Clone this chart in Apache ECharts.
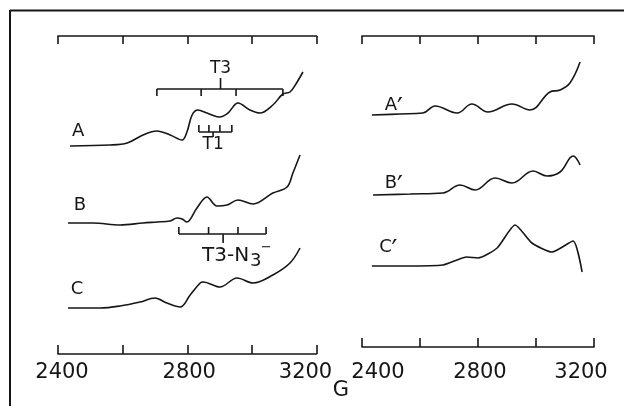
<!DOCTYPE html>
<html>
<head>
<meta charset="utf-8">
<script src="https://cdn.jsdelivr.net/npm/echarts@6.0.0/dist/echarts.min.js"></script>
<style>
  html, body { margin: 0; padding: 0; background: #fff; }
  #chart { width: 624px; height: 406px; }
</style>
</head>
<body>
<div id="chart"></div>
<script>
// field axis (gauss)
const fieldMin = 2400;
const fieldMax = 3200;
const fieldStep = 200;
const tickLabels = [2400, 2800, 3200];

// left panel traces: field (G) and signal (arbitrary units), plus vertical offset of each trace
const fieldA = [2437, 2561, 2614, 2663, 2706, 2747, 2784, 2799, 2815, 2833, 2861, 2901, 2926, 2957, 2994, 3025, 3065, 3096, 3118, 3140, 3158];
const signalA = [0, 1, 3, 11, 15, 11, 6, 14, 31, 36, 33, 29, 33, 43, 36, 33, 41, 52, 54, 64, 74];
const fieldB = [2431, 2508, 2592, 2663, 2706, 2747, 2768, 2784, 2799, 2830, 2861, 2892, 2923, 2957, 3004, 3065, 3109, 3127, 3149];
const signalB = [0, 0, -2, 0, 1, 2, 5, 4, 1, 15, 26, 17, 18, 23, 19, 30, 36, 50, 68];
const fieldC = [2431, 2530, 2592, 2654, 2700, 2737, 2778, 2809, 2840, 2849, 2901, 2954, 3004, 3065, 3118, 3149];
const signalC = [0, 0, 2, 6, 10, 5, 1, 13, 25, 26, 21, 30, 25, 33, 45, 60];
const offsetsLeft = [208, 131, 46];
const namesLeft = ['A', 'B', 'C'];
const nameFieldLeft = [2462, 2468, 2459];
const nameLevelLeft = [223, 149, 65];

// right panel traces
const fieldA2 = [2434, 2531, 2610, 2652, 2728, 2779, 2834, 2917, 2979, 3048, 3083, 3117, 3152];
const signalA2 = [0, 1, 2, 9, 2, 11, 3, 11, 5, 23, 25, 32, 53];
const fieldB2 = [2438, 2566, 2679, 2738, 2790, 2859, 2917, 2990, 3038, 3083, 3128, 3152];
const signalB2 = [0, 1, 2, 10, 5, 17, 12, 24, 19, 23, 39, 30];
const fieldC2 = [2434, 2550, 2679, 2762, 2800, 2866, 2928, 2986, 3055, 3128, 3159];
const signalC2 = [0, 0, 1, 9, 8, 18, 41, 23, 14, 25, -6];
const offsetsRight = [232, 152, 81];
const namesRight = ['A', 'B', 'C'];
const nameFieldRight = [2500, 2500, 2481];
const nameLevelRight = [242, 164, 100];

// hyperfine stick markers (left panel)
const bracketTicks = [
  [2706, 2843, 2951, 3096],
  [2836, 2867, 2901, 2938],
  [2774, 2866, 2957, 3044]
];
const bracketStem = [2903, 2880, 2911];
const bracketLevel = [265, 222, 120];
const bracketNames = ['T3', 'T1', 'T3-N'];

const FONT = '"DejaVu Sans", sans-serif';
const INK = '#161616';

let myChart = echarts.init(document.getElementById('chart'));

function trace(field, signal, offset, xi, smooth) {
  return {
    type: 'line',
    xAxisIndex: xi,
    yAxisIndex: xi === 0 ? 0 : 1,
    data: field.map((g, i) => [g, offset + signal[i]]),
    showSymbol: false,
    smooth: smooth,
    lineStyle: { color: INK, width: 1.6 },
    silent: true
  };
}

function renderBracket(params, api) {
  let i = params.dataIndex;
  let lv = bracketLevel[i];
  let ticks = bracketTicks[i];
  let dir = i === 0 ? -1 : 1; // +1: ticks point up
  let style = { stroke: INK, lineWidth: 1.6 };
  let p0 = api.coord([ticks[0], lv]);
  let p1 = api.coord([ticks[ticks.length - 1], lv]);
  let s = api.coord([bracketStem[i], lv]);
  let children = [{ type: 'line', shape: { x1: p0[0], y1: p0[1], x2: p1[0], y2: p1[1] }, style: style }];
  ticks.forEach(t => {
    let p = api.coord([t, lv]);
    children.push({ type: 'line', shape: { x1: p[0], y1: p[1], x2: p[0], y2: p[1] - dir * 7 }, style: style });
  });
  let stemLen = i === 0 ? 11 : (i === 1 ? 5 : 9);
  children.push({ type: 'line', shape: { x1: s[0], y1: s[1], x2: s[0], y2: s[1] + dir * stemLen }, style: style });
  if (i === 0) {
    children.push({ type: 'text', style: { text: bracketNames[i], x: s[0], y: s[1] - 20, align: 'center', verticalAlign: 'middle', font: '17px ' + FONT, fill: INK } });
  } else if (i === 1) {
    children.push({ type: 'text', style: { text: bracketNames[i], x: s[0], y: s[1] + 13, align: 'center', verticalAlign: 'middle', font: '17px ' + FONT, fill: INK } });
  } else {
    children.push({ type: 'text', style: { text: bracketNames[i], x: s[0] - 21, y: s[1] + 22, align: 'left', verticalAlign: 'middle', font: '20px ' + FONT, fill: INK } });
    children.push({ type: 'text', style: { text: '3', x: s[0] + 27, y: s[1] + 27, align: 'left', verticalAlign: 'middle', font: '18px ' + FONT, fill: INK } });
    children.push({ type: 'text', style: { text: '\u2212', x: s[0] + 43, y: s[1] + 14, align: 'center', verticalAlign: 'middle', font: '13px ' + FONT, fill: INK } });
  }
  return { type: 'group', children: children };
}

function nameSeries(xi, names, fields, levels, primed) {
  return {
    type: 'custom',
    xAxisIndex: xi,
    yAxisIndex: xi === 0 ? 0 : 1,
    data: fields.map((g, i) => [g, levels[i]]),
    silent: true,
    renderItem: (params, api) => {
      let p = api.coord([api.value(0), api.value(1)]);
      let txt = names[params.dataIndex];
      let children = [{ type: 'text', style: { text: txt, x: p[0], y: p[1], align: 'center', verticalAlign: 'middle', font: '18px ' + FONT, fill: INK } }];
      if (primed) {
        // prime mark, drawn as text just after the letter
        children.push({ type: 'text', style: { text: '\u2032', x: p[0] + 6, y: p[1] + 5, align: 'left', verticalAlign: 'middle', font: '26px ' + FONT, fill: INK } });
      }
      return { type: 'group', children: children };
    }
  };
}

function bottomAxis(gi, margin, pads) {
  let rich = {};
  pads.forEach((p, k) => {
    rich['t' + k] = { padding: p, fontSize: 21, fontFamily: FONT, color: INK };
  });
  return {
    type: 'value', gridIndex: gi, position: 'bottom',
    min: fieldMin, max: fieldMax, interval: fieldStep,
    axisLine: { lineStyle: { color: INK, width: 1.6 } },
    axisTick: { inside: true, length: 9, lineStyle: { color: INK, width: 1.6 } },
    splitLine: { show: false },
    axisLabel: {
      margin: margin, showMinLabel: true, showMaxLabel: true,
      formatter: v => {
        let k = tickLabels.indexOf(v);
        return k < 0 ? '' : '{t' + k + '|' + v + '}';
      },
      rich: rich
    }
  };
}

function topAxis(gi) {
  return {
    type: 'value', gridIndex: gi, position: 'top',
    min: fieldMin, max: fieldMax, interval: fieldStep,
    axisLine: { lineStyle: { color: INK, width: 1.6 } },
    axisTick: { inside: true, length: 8, lineStyle: { color: INK, width: 1.6 } },
    splitLine: { show: false },
    axisLabel: { show: false }
  };
}

let option = {
  animation: false,
  backgroundColor: '#fff',
  grid: [
    { left: 58, right: 307.5, top: 36, bottom: 52, outerBoundsMode: 'none' },
    { left: 362, right: 30, top: 36, bottom: 59, outerBoundsMode: 'none' }
  ],
  xAxis: [
    bottomAxis(0, 8, [[0, 0, 0, 8], [0, 0, 0, 4], [0, 22, 0, 0]]),
    bottomAxis(1, 15, [[0, 0, 0, 32], [0, 0, 0, 4], [0, 26, 0, 0]]),
    topAxis(0),
    topAxis(1)
  ],
  yAxis: [
    { type: 'value', gridIndex: 0, min: 0, max: 318, show: false },
    { type: 'value', gridIndex: 1, min: 0, max: 311, show: false }
  ],
  graphic: [
    { type: 'line', shape: { x1: 10, y1: 10.5, x2: 624, y2: 10.5 }, style: { stroke: INK, lineWidth: 2 } },
    { type: 'line', shape: { x1: 10, y1: 10, x2: 10, y2: 406 }, style: { stroke: INK, lineWidth: 2 } },
    { type: 'text', style: { text: 'G', x: 341, y: 391, align: 'center', verticalAlign: 'middle', font: '21px ' + FONT, fill: INK } }
  ],
  series: [
    trace(fieldA, signalA, offsetsLeft[0], 0, 0.35),
    trace(fieldB, signalB, offsetsLeft[1], 0, 0.35),
    trace(fieldC, signalC, offsetsLeft[2], 0, 0.35),
    trace(fieldA2, signalA2, offsetsRight[0], 1, 0.4),
    trace(fieldB2, signalB2, offsetsRight[1], 1, 0.4),
    trace(fieldC2, signalC2, offsetsRight[2], 1, 0.2),
    {
      type: 'custom', xAxisIndex: 0, yAxisIndex: 0, silent: true,
      data: bracketStem.map((g, i) => [g, bracketLevel[i]]),
      renderItem: renderBracket
    },
    nameSeries(0, namesLeft, nameFieldLeft, nameLevelLeft, false),
    nameSeries(1, namesRight, nameFieldRight, nameLevelRight, true)
  ]
};
myChart.setOption(option, true);
</script>
</body>
</html>
